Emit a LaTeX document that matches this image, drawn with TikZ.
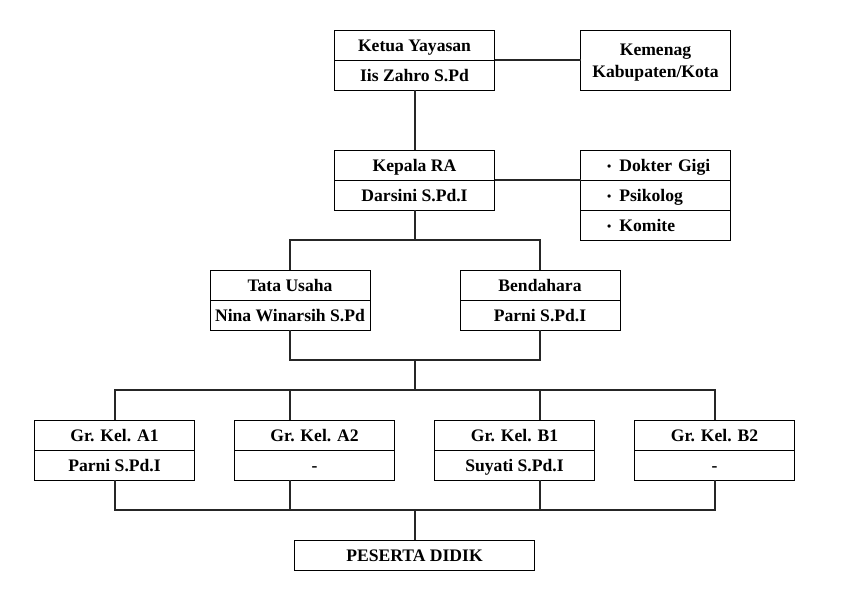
\documentclass[tikz,border=0pt]{standalone}
\usepackage{fontspec}
\setmainfont{Liberation Serif}
\usetikzlibrary{positioning}
\newcommand\listdot{\raisebox{1pt}{\fontsize{9}{9}\selectfont\textbullet}\hspace{6pt}}
\tikzset{
	font = \fontsize{13.2}{16.5}\selectfont\bfseries,
	frame/.style={
		draw,
		line width=.75pt,
		inner sep=2pt,
		outer sep=0pt
	},
	box/.style={
		frame,
		minimum width=120pt,
		minimum height=22.5pt,
		text height=11.2pt,
		text depth=2pt
	},
	list item/.style={
		box,
		minimum width=112.5pt,
		text width=104.5pt,
		inner xsep=4pt,
		align=left,
		execute at begin node=\hspace*{16pt}
	},
	link/.style={
		line width=1.5pt,
		draw=black!85
	}
}

\begin{document}
\begin{tikzpicture}[x=.75pt, y=-.75pt]
        \useasboundingbox (0,0) rectangle (841,602);
        \node[box] (ketua) at (414.5,45.5) {Ketua Yayasan};
        \node[box] (ketuaNama) [below = 0pt of ketua] {Iis Zahro S.Pd};
        \node[frame, minimum width=112.5pt, minimum height=45pt, align=center] (kemenag) at (655.5,60.5) {\rule{0pt}{12pt}Kemenag\\Kabupaten/Kota};

        \node[box] (kepala) at (414.5,165.5) {Kepala RA};
        \node[box] (kepalaNama) [below = 0pt of kepala] {Darsini S.Pd.I};
        \node[list item] (dokter) at (655.5,165.5) {\listdot Dokter Gigi};
        \node[list item] (psikolog) [below = 0pt of dokter] {\listdot Psikolog};
        \node[list item] (komite) [below = 0pt of psikolog] {\listdot Komite};

        \node[box] (tata) at (290,285) {Tata Usaha};
        \node[box] (tataNama) [below = 0pt of tata] {Nina Winarsih S.Pd};
        \node[box] (bendahara) at (540,285) {Bendahara};
        \node[box] (bendaharaNama) [below = 0pt of bendahara] {Parni S.Pd.I};

        \node[box] (grA1) at (114.5,435) {Gr. Kel. A1};
        \node[box] (grA1Nama) [below = 0pt of grA1] {Parni S.Pd.I};
        \node[box] (grA2) at (314.5,435) {Gr. Kel. A2};
        \node[box] (grA2Nama) [below = 0pt of grA2] {-};
        \node[box] (grB1) at (514.5,435) {Gr. Kel. B1};
        \node[box] (grB1Nama) [below = 0pt of grB1] {Suyati S.Pd.I};
        \node[box] (grB2) at (714.5,435) {Gr. Kel. B2};
        \node[box] (grB2Nama) [below = 0pt of grB2] {-};

        \node[box, minimum width=180pt] (peserta) at (414.5,555) {PESERTA DIDIK};

        % junctions of the tree lines
        \coordinate (jKepala) at (414.5,240);
        \coordinate (jStaf) at (414.5,360);
        \coordinate (jGuru) at (414.5,390);
        \coordinate (jPeserta) at (414.5,510);

        \draw[link] (ketuaNama.south) -- (kepala.north);
        \draw[link] (ketua.south east) -- (kemenag.west);
        \draw[link] (kepala.south east) -- (dokter.south west);
        \draw[link] (kepalaNama.south) -- (jKepala);
        \draw[link] (tata.north) |- (jKepala) -| (bendahara.north);
        \draw[link] (tataNama.south) |- (jStaf) -| (bendaharaNama.south);
        \draw[link] (jStaf) -- (jGuru);
        \draw[link] (grA1.north) |- (jGuru) -| (grB2.north);
        \draw[link] (tata |- jGuru) -- (tata |- grA2.north);
        \draw[link] (bendahara |- jGuru) -- (bendahara |- grB1.north);
        \draw[link] (grA1Nama.south) |- (jPeserta) -| (grB2Nama.south);
        \draw[link] (tata |- grA2Nama.south) -- (tata |- jPeserta);
        \draw[link] (bendahara |- grB1Nama.south) -- (bendahara |- jPeserta);
        \draw[link] (jPeserta) -- (peserta.north);
\end{tikzpicture}
\end{document}
